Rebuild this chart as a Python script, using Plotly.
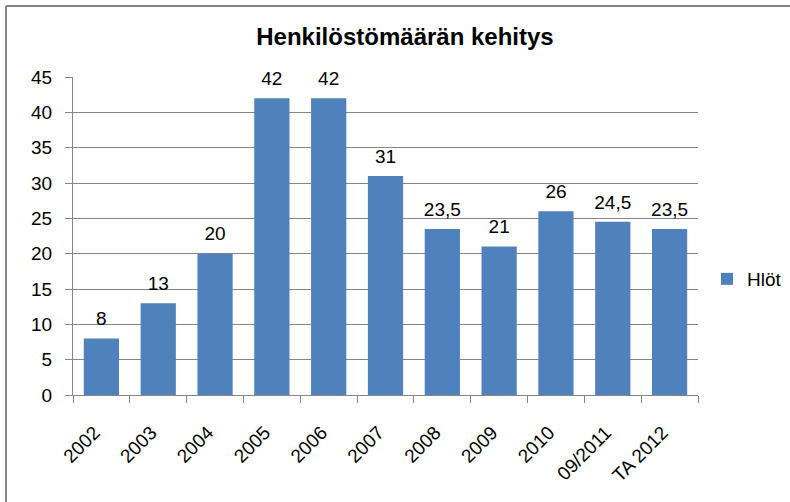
import plotly.graph_objects as go

categories = ["2002", "2003", "2004", "2005", "2006", "2007", "2008", "2009", "2010", "09/2011", "TA 2012"]
values = [8, 13, 20, 42, 42, 31, 23.5, 21, 26, 24.5, 23.5]
series_name = "Hlöt"
title_text = "Henkilöstömäärän kehitys"
y_ticks = [0, 5, 10, 15, 20, 25, 30, 35, 40, 45]

labels = [("%g" % v).replace(".", ",") for v in values]

FONT = "Liberation Sans, Arial, sans-serif"
W, H = 790, 502
L, R, T, B = 73, 92, 77, 107
pw, ph = W - L - R, H - T - B

fig = go.Figure()
fig.add_trace(go.Bar(
    x=categories, y=values, name=series_name,
    marker=dict(color="#4F81BD", line=dict(width=0)),
    showlegend=True,
))
# value labels above the bars
fig.add_trace(go.Scatter(
    x=categories, y=values, text=labels, mode="markers+text",
    textposition="top center", cliponaxis=False,
    marker=dict(size=12, opacity=0), hoverinfo="skip",
    textfont=dict(family=FONT, size=19, color="black"),
    showlegend=False,
))

def px_x(p):
    return (p - L) / pw

def px_y(p):
    return (H - B - p) / ph

fig.update_layout(
    width=W, height=H,
    margin=dict(l=L, r=R, t=T, b=B, pad=0, autoexpand=False),
    paper_bgcolor="white", plot_bgcolor="white",
    font=dict(family=FONT, size=19, color="black"),
    bargap=0.38,
    title=dict(text="<b>" + title_text + "</b>", x=405 / W, xanchor="center",
               y=1 - 37 / H, yanchor="middle",
               font=dict(family=FONT, size=24, color="black")),
    showlegend=True,
    legend=dict(x=px_x(707), y=px_y(279), xanchor="left", yanchor="middle",
                font=dict(family=FONT, size=19, color="black"),
                bgcolor="rgba(0,0,0,0)", itemwidth=30),
    xaxis=dict(type="category", range=[-0.5, len(categories) - 0.5],
               tickangle=-45, tickson="boundaries",
               ticks="outside", ticklen=7, tickcolor="#868686", automargin=False,
               ticklabelstandoff=18, ticklabelshift=-7,
               showline=True, linecolor="#868686", linewidth=1,
               showgrid=False, tickfont=dict(family=FONT, size=19, color="black")),
    yaxis=dict(range=[0, 45], tickvals=y_ticks, ticks="outside", ticklen=7,
               tickcolor="#868686", showline=True, linecolor="#868686", linewidth=1,
               automargin=False, ticklabelstandoff=9,
               showgrid=True, gridcolor="#868686", gridwidth=1, zeroline=False,
               tickfont=dict(family=FONT, size=19, color="black")),
    shapes=[
        dict(type="line", xref="paper", yref="paper",
             x0=px_x(6), x1=px_x(792), y0=px_y(6), y1=px_y(6),
             line=dict(color="#868686", width=2)),
        dict(type="line", xref="paper", yref="paper",
             x0=px_x(6), x1=px_x(6), y0=px_y(6), y1=px_y(505),
             line=dict(color="#868686", width=2)),
    ],
)

fig.write_html("out.html", config={"displayModeBar": False},
               post_script="document.body.style.margin='0px';")
